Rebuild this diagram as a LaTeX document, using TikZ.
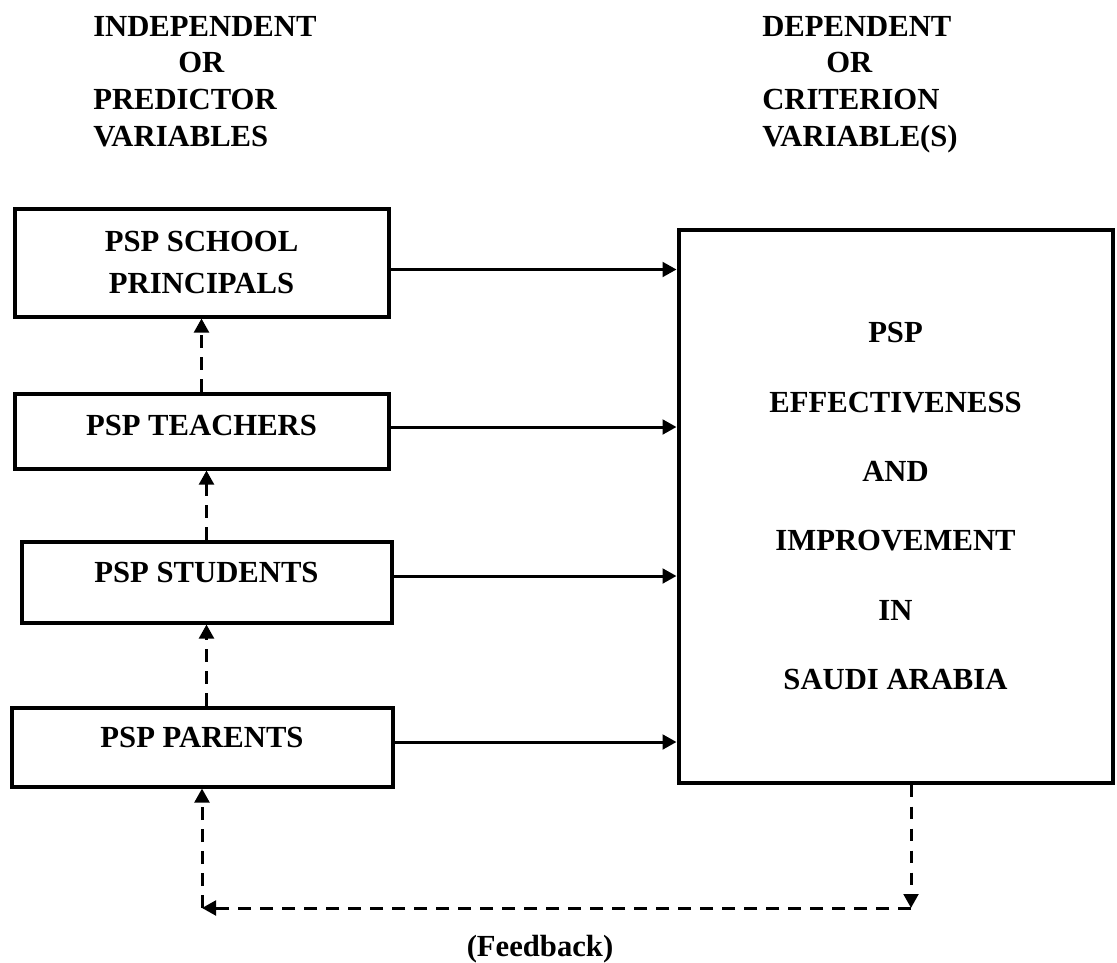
\documentclass[tikz,border=0pt]{standalone}
\usepackage{fontspec}
\setmainfont{Liberation Serif}
\usetikzlibrary{arrows.meta}

\tikzset{
  box/.style={draw,line width=3pt,inner sep=0pt,align=center,font=\fontsize{23}{31.5}\selectfont\bfseries},
  hdr/.style={anchor=base west,inner sep=0pt,font=\fontsize{23}{27}\selectfont\bfseries},
  flow/.style={line width=2.25pt,-{Triangle[length=10.5pt,width=11pt]}},
  fback/.style={flow,dash pattern=on 9.5pt off 7pt},
}

\begin{document}
\begin{tikzpicture}[x=0.75pt,y=0.75pt,yscale=-1]
		\useasboundingbox (0,0) rectangle (1117,963);

		% Text Node
		\node[hdr] (ind1) at (93,37) {INDEPENDENT};
		\node[hdr] (ind2) at (178,73) {OR};
		\node[hdr] (ind3) at (93,110) {PREDICTOR};
		\node[hdr] (ind4) at (93,147) {VARIABLES};
		% Text Node
		\node[hdr] (dep1) at (762,37) {DEPENDENT};
		\node[hdr] (dep2) at (826,73) {OR};
		\node[hdr] (dep3) at (762,110) {CRITERION};
		\node[hdr] (dep4) at (762,147) {VARIABLE(S)};

		%Shape: Rectangle
		\node[box,minimum width=280.5pt,minimum height=81pt] (principals) at (201.5,262.5) {PSP SCHOOL\\PRINCIPALS};
		\node[box,minimum width=280.5pt,minimum height=56.25pt,text depth=9pt] (teachers) at (201.5,431) {PSP TEACHERS};
		\node[box,minimum width=277.5pt,minimum height=60.75pt,text depth=15pt] (students) at (206.5,582) {PSP STUDENTS};
		\node[box,minimum width=285.75pt,minimum height=59.25pt,text depth=15pt] (parents) at (202,747) {PSP PARENTS};
		%Shape: Rectangle
		\node[box,minimum width=325.5pt,minimum height=414.75pt,font=\fontsize{23}{52}\selectfont\bfseries] (effect) at (895.5,506)
			{PSP\\EFFECTIVENESS\\AND\\IMPROVEMENT\\IN\\SAUDI ARABIA};

		%Straight Lines
		\coordinate (pa) at ([yshift=5.25pt]principals.east);
		\coordinate (ta) at ([yshift=-3pt]teachers.east);
		\coordinate (sa) at ([yshift=-4.5pt]students.east);
		\coordinate (ra) at ([yshift=-3.75pt]parents.east);
		\draw[flow] (pa) -- (pa -| effect.west);
		\draw[flow] (ta) -- (ta -| effect.west);
		\draw[flow] (sa) -- (sa -| effect.west);
		\draw[flow] (ra) -- (ra -| effect.west);

		%Straight Lines
		\draw[fback] (teachers.north) -- (principals.south);
		\draw[fback] (students.north) -- (students.north |- teachers.south);
		\draw[fback] (students.south |- parents.north) -- (students.south);

		% feedback loop
		\coordinate (fbR) at (911,908);
		\coordinate (fbL) at (parents.south |- fbR);
		\draw[fback] (effect.south -| fbR) -- (fbR);
		\draw[fback] (fbR) -- (fbL);
		\draw[fback] (fbL) -- (parents.south);

		% Text Node
		\node[anchor=base,inner sep=0pt,font=\fontsize{23}{27}\selectfont\bfseries] (fbtext) at (540,956) {(Feedback)};
\end{tikzpicture}
\end{document}
